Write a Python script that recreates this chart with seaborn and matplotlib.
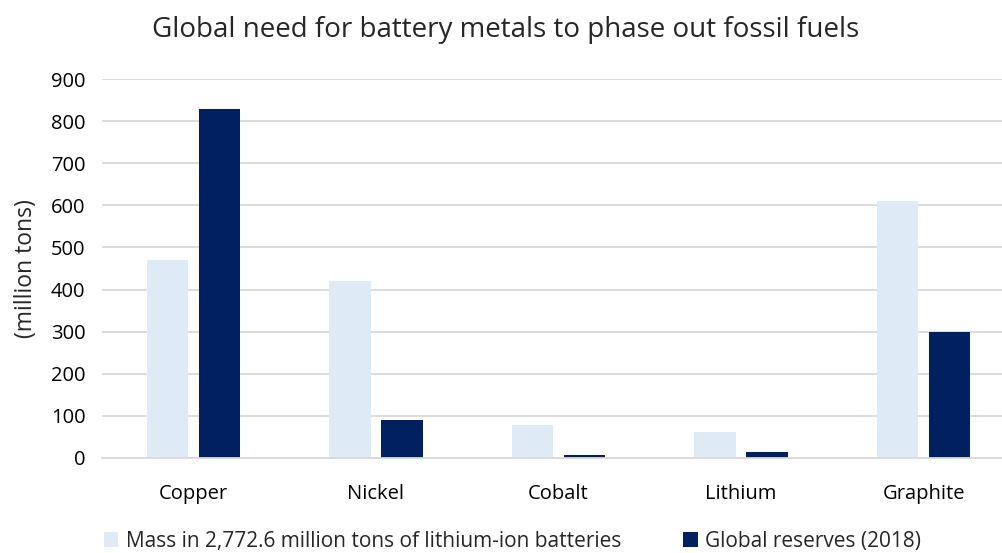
import matplotlib
matplotlib.use("Agg")
import matplotlib.pyplot as plt
import seaborn as sns
import pandas as pd

categories = ["Copper", "Nickel", "Cobalt", "Lithium", "Graphite"]
battery_mass = [470, 420, 78, 62, 610]
global_reserves = [830, 90, 7, 15, 300]
series_names = ["Mass in 2,772.6 million tons of lithium-ion batteries", "Global reserves (2018)"]
yticks = [0, 100, 200, 300, 400, 500, 600, 700, 800, 900]

df = pd.DataFrame({
    "category": categories * 2,
    "value": battery_mass + global_reserves,
    "series": [series_names[0]] * len(categories) + [series_names[1]] * len(categories),
})

sns.set_style("white")
plt.rcParams['font.family'] = ['Open Sans', 'DejaVu Sans']

fig = plt.figure(figsize=(10.02, 5.53), dpi=100)
ax = fig.add_axes([0.102, 0.1718, 0.898, 0.6852])

sns.barplot(data=df, x="category", y="value", hue="series", order=categories,
            hue_order=series_names, palette=["#DEEAF6", "#002060"],
            width=0.57, gap=0.2, ax=ax, saturation=1, legend=True,
            linewidth=0, edgecolor="none")

ax.set_ylim(0, 900)
ax.set_xlim(-0.5, 4.43)
ax.set_yticks(yticks)
ax.yaxis.grid(True, color="#D9D9D9", linewidth=1.3)
ax.set_axisbelow(True)
for s in ["top", "right", "left"]:
    ax.spines[s].set_visible(False)
ax.spines["bottom"].set_color("#D9D9D9")
ax.spines["bottom"].set_linewidth(1.3)
ax.tick_params(axis="y", length=0, labelsize=14.5, colors="black", pad=12)
ax.tick_params(axis="x", length=0, labelsize=14.5, colors="black", pad=19)
ax.set_xlabel("")
ax.set_ylabel("(million tons)", fontsize=16.5, labelpad=9)
fig.text(0.505, 1 - 37 / 553, "Global need for battery metals to phase out fossil fuels",
         fontsize=20, ha="center", va="baseline")

ax.legend(loc="center", bbox_to_anchor=(0.5115, 1 - 541 / 553), bbox_transform=fig.transFigure,
          ncol=2, frameon=False, fontsize=15, handlelength=0.7, handleheight=0.75,
          handletextpad=0.35, columnspacing=3.0, borderpad=0)

fig.savefig("out.png", dpi=100)
